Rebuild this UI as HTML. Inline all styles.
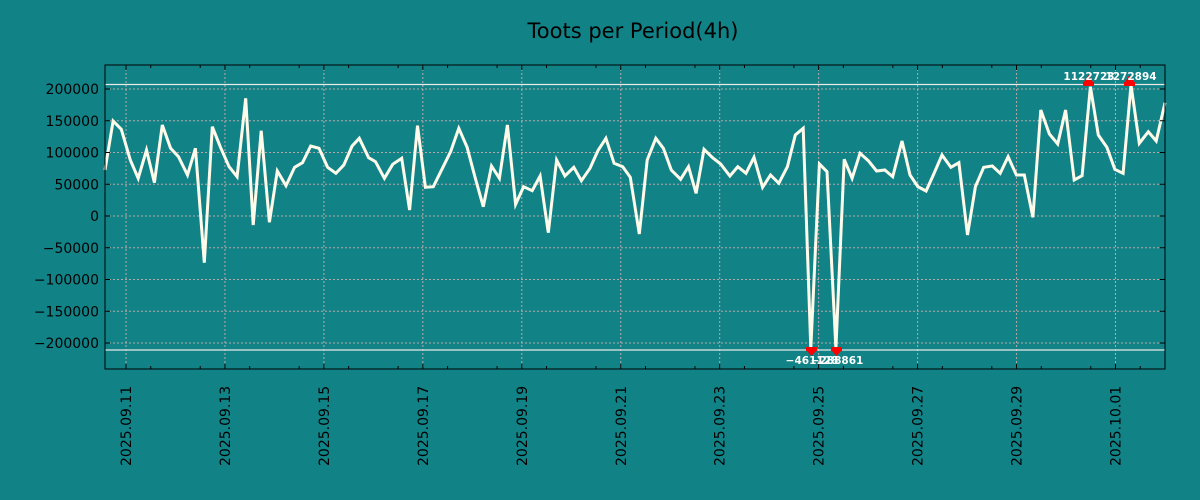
<!DOCTYPE html>
<html><head><meta charset="utf-8"><style>
body{margin:0;background:#118387;}
svg{display:block;font-family:"DejaVu Sans","Liberation Sans",sans-serif;}
</style></head><body>
<svg id="s" width="1200" height="500" xmlns="http://www.w3.org/2000/svg">
<rect width="1200" height="500" fill="#118387"/>
<text x="633" y="38" font-size="21" text-anchor="middle" fill="#000">Toots per Period(4h)</text>
<g id="grid" stroke="#b8a8a8" stroke-width="1" stroke-dasharray="2,2"></g>
<line x1="105" x2="1165" y1="84.5" y2="84.5" stroke="#e8e8e8" stroke-width="1.2"/>
<line x1="105" x2="1165" y1="350" y2="350" stroke="#e8e8e8" stroke-width="1.2"/>
<polyline id="pl" fill="none" stroke="#fffbea" stroke-width="3" stroke-linejoin="miter"/>
<g fill="#ff0000">
<rect x="1083" y="82" width="11" height="4"/><polygon points="1088.5,75 1084,82 1093,82"/>
<rect x="1124" y="82" width="11" height="4"/><polygon points="1129.5,75 1125,82 1134,82"/>
<rect x="806" y="347" width="11" height="4"/><polygon points="811.5,356 807,351 816,351"/>
<rect x="831" y="347" width="11" height="4"/><polygon points="836.5,356 832,351 841,351"/>
</g>
<g font-size="10.5" font-weight="bold" fill="#fff" text-anchor="middle">
<text x="1089" y="80">1122723</text><text x="1131" y="80">1272894</text>
<text x="812" y="364">−461128</text><text x="837" y="364">−288861</text>
</g>
<rect x="105" y="65" width="1060" height="304" fill="none" stroke="#000" stroke-width="1"/>
<g id="ax" font-size="14" fill="#000"></g>
</svg>
<script>
const ns="http://www.w3.org/2000/svg";
function el(t,a,p,txt){const e=document.createElementNS(ns,t);for(const k in a)e.setAttribute(k,a[k]);if(txt!==undefined)e.textContent=txt;p.appendChild(e);return e;}
const grid=document.getElementById('grid'),ax=document.getElementById('ax');
const vals=[200000,150000,100000,50000,0,-50000,-100000,-150000,-200000];
vals.forEach(v=>{const y=216-v*127/200000;
 el('line',{x1:105,x2:1165,y1:y,y2:y},grid);
 el('line',{x1:105,x2:110,y1:y,y2:y,stroke:'#000'},ax);
 el('line',{x1:1160,x2:1165,y1:y,y2:y,stroke:'#000'},ax);
 el('text',{x:99,y:y+5,'text-anchor':'end'},ax,v<0?'−'+(-v):String(v));
});
const dates=['2025.09.11','2025.09.13','2025.09.15','2025.09.17','2025.09.19','2025.09.21','2025.09.23','2025.09.25','2025.09.27','2025.09.29','2025.10.01'];
dates.forEach((d,i)=>{const x=126+i*98.95;
 el('line',{x1:x,x2:x,y1:65,y2:369},grid);
 el('line',{x1:x,x2:x,y1:364,y2:369,stroke:'#000'},ax);
 el('line',{x1:x,x2:x,y1:65,y2:70,stroke:'#000'},ax);
 el('text',{x:0,y:0,transform:`translate(${x+5},466) rotate(-90)`},ax,d);
});
for(let i=-1;i<23;i++){const x=126+49.475*(i)+24.74;if(x>105&&x<1165){el('line',{x1:x,x2:x,y1:366,y2:369,stroke:'#000'},ax);el('line',{x1:x,x2:x,y1:65,y2:68,stroke:'#000'},ax);}}
const z1=[[15,330],[38,183],[62,208],[88,300],[111,355],[135,270],[158,368],[181,195],[205,265],[228,290],[254,345],[277,265],[303,608],[326,200],[350,262],[375,320],[398,350],[423,115],[445,495],[468,212],[492,487],[515,333],[540,377],[565,322],[588,308],[612,258],[636,265],[661,322],[685,340],[708,315],[732,258],[753,235],[780,293],[800,305],[826,355],[850,313],[876,295],[899,450],[922,197],[945,382],[968,380],[993,328],[1018,275],[1042,205],[1066,262],[1090,355],[1113,440],[1137,318],[1160,355],[1183,195],[1207,433],[1230,380],[1255,392],[1278,348],[1302,518],[1326,300],[1350,348],[1376,322],[1398,362],[1423,325],[1446,272],[1469,235],[1493,310],[1518,320],[1540,352]];
const z2=[[27,522],[50,300],[75,235],[97,265],[120,330],[147,358],[170,320],[192,400],[215,268],[240,293],[263,312],[290,348],[313,320],[337,340],[360,292],[385,382],[408,345],[432,370],[457,320],[480,225],[503,205],[525,865],[550,312],[572,335],[598,865],[622,298],[645,355],[668,280],[692,302],[716,333],[740,330],[763,350],[790,243],[813,345],[836,380],[860,393],[883,340],[906,285],[932,322],[955,308],[980,525],[1003,380],[1027,322],[1052,318],[1075,340],[1098,290],[1122,345],[1145,345],[1170,472],[1193,150],[1218,222],[1242,252],[1265,150],[1290,360],[1313,347],[1337,80],[1360,225],[1385,262],[1408,328],[1432,340],[1455,75],[1479,250],[1505,215],[1528,243],[1552,128]];
const pts=[];
z1.forEach(p=>pts.push([100+p[0]/2.904,60+p[1]/3]));
z2.forEach(p=>pts.push([630+p[0]/2.904,60+p[1]/3]));
pts[0][0]=105;pts[pts.length-1][0]=1165;
document.getElementById('pl').setAttribute('points',pts.map(p=>p[0].toFixed(1)+','+p[1].toFixed(1)).join(' '));
</script>
</body></html>
